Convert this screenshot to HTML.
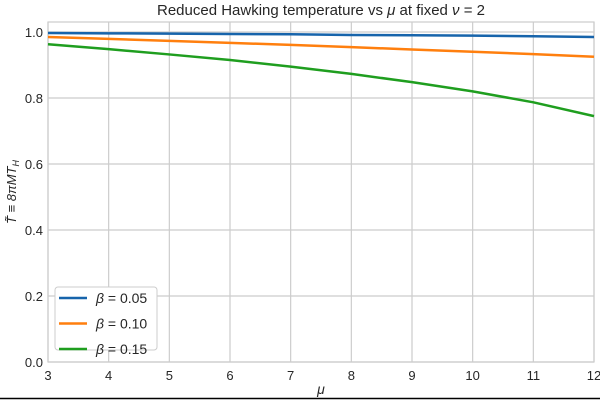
<!DOCTYPE html>
<html><head><meta charset="utf-8"><style>
body{margin:0;background:#fff;width:600px;height:400px;overflow:hidden}
svg text{font-family:"Liberation Sans","DejaVu Sans",sans-serif;fill:#262626}
</style></head><body>
<svg id="chart" width="600" height="400"></svg>
<script>
const mu=[3,4,5,6,7,8,9,10,11,12];
const b005=[0.997,0.996,0.995,0.994,0.993,0.991,0.990,0.989,0.987,0.985];
const b010=[0.985,0.979,0.973,0.967,0.961,0.954,0.947,0.940,0.933,0.925];
const b015=[0.963,0.948,0.932,0.915,0.895,0.873,0.848,0.820,0.787,0.745];
const xTicks=[3,4,5,6,7,8,9,10,11,12];
const yTicks=[0,0.2,0.4,0.6,0.8,1.0];
const labels=["= 0.05","= 0.10","= 0.15"];
const colors=["#1764ab","#ff7f0e","#1f9e1f"];
const L=48,R=594,T=22,B=362;
const X=v=>L+(v-3)/9*(R-L);
const Y=v=>362-v*330;
const s=document.getElementById('chart');const NS="http://www.w3.org/2000/svg";
function mk(t,a,p){const e=document.createElementNS(NS,t);for(const k in a)e.setAttribute(k,a[k]);(p||s).appendChild(e);return e;}
mk('rect',{x:L,y:T,width:R-L,height:B-T,fill:'#fff'});
xTicks.forEach(v=>{const g=mk('line',{x1:X(v),x2:X(v),y1:T,y2:B,stroke:'#cccccc','stroke-width':1.2});

const t=mk('text',{x:X(v),y:B+18,'text-anchor':'middle','font-size':13});t.textContent=v;
});
yTicks.forEach(v=>{const g=mk('line',{x1:L,x2:R,y1:Y(v),y2:Y(v),stroke:'#cccccc','stroke-width':1.2});

const t=mk('text',{x:L-5,y:Y(v)+5,'text-anchor':'end','font-size':13});t.textContent=v.toFixed(1);
});
const fr=mk('rect',{x:L,y:T,width:R-L,height:B-T,fill:'none',stroke:'#cccccc','stroke-width':1.2});

[b005,b010,b015].forEach((d,i)=>{const p=mk('polyline',{points:mu.map((m,j)=>X(m)+','+Y(d[j])).join(' '),fill:'none',stroke:colors[i],'stroke-width':2.5});
});
const lg=mk('g',{});
mk('rect',{x:55,y:287,width:102,height:63,fill:'#fff',stroke:'#cccccc',rx:3},lg);
labels.forEach((l,i)=>{const y=298+i*25.5;
const ln=mk('line',{x1:59,x2:87,y1:y,y2:y,stroke:colors[i],'stroke-width':2.5},lg);

const t=mk('text',{x:96,y:y+5,'font-size':14},lg);
const b=mk('tspan',{'font-style':'italic'},t);b.textContent='β ';
const r=mk('tspan',{},t);r.textContent=l;
});
const ti=mk('text',{x:321,y:15,'text-anchor':'middle','font-size':15});ti.textContent='Reduced Hawking temperature vs ';
const tm=mk('tspan',{'font-style':'italic'},ti);tm.textContent='μ';
const tr=mk('tspan',{},ti);tr.textContent=' at fixed ';
const tn=mk('tspan',{'font-style':'italic'},ti);tn.textContent='ν';
const tr2=mk('tspan',{},ti);tr2.textContent=' = 2';

const xl=mk('text',{x:321,y:394,'text-anchor':'middle','font-size':14,'font-style':'italic'});xl.textContent='μ';

const yl=mk('text',{x:16,y:192,'text-anchor':'middle','font-size':13,transform:'rotate(-90 16 192)','font-style':'italic'});
yl.textContent='T̃ ≡ 8πMT';const sub=mk('tspan',{'font-size':9,dy:3},yl);sub.textContent='H';

const bl=mk('line',{x1:0,x2:600,y1:398.5,y2:398.5,stroke:'#000','stroke-width':1.5});

</script>
</body></html>
